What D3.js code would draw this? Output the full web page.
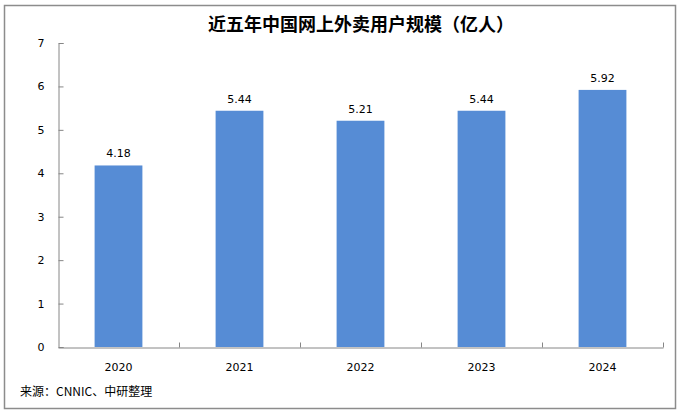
<!DOCTYPE html>
<html><head><meta charset="utf-8">
<script src="https://cdn.jsdelivr.net/npm/d3@7"></script>
<style>body{margin:0;background:#fff}svg{display:block}</style>
</head><body>
<svg id="c" width="680" height="415"></svg>
<script>
const categories = ["2020","2021","2022","2023","2024"];
const values = [4.18,5.44,5.21,5.44,5.92];
const yTicks = [0,1,2,3,4,5,6,7];
const title = "近五年中国网上外卖用户规模（亿人）";
const source = "来源：CNNIC、中研整理";

const svg = d3.select("#c");
const font = "'Noto Sans CJK SC', 'DejaVu Sans', sans-serif";
svg.append("rect").attr("x",4.5).attr("y",5.5).attr("width",671).attr("height",403)
  .attr("fill","#fff").attr("stroke","#8c8c8c").attr("stroke-width",1.5);

const x = d3.scaleBand().domain(categories).range([58,663]);
const y = d3.scaleLinear().domain([0,7]).range([347,43]);
const axisColor = "#868686";

svg.append("text").attr("x",208).attr("y",31).attr("text-anchor","start")
  .attr("font-family",font).attr("font-size",18).attr("font-weight","bold").attr("fill","#000").text(title);

// y axis
const ya = svg.append("g").attr("transform","translate(58.5,0)")
  .call(d3.axisLeft(y).tickValues(yTicks).tickFormat(d3.format("d")).tickSize(-5).tickPadding(14));
ya.select(".domain").attr("stroke",axisColor);
ya.selectAll(".tick line").attr("stroke",axisColor);
ya.selectAll("text").attr("font-family","'DejaVu Sans', sans-serif").attr("font-size",11).attr("fill","#000");

// x axis
const xa = svg.append("g").attr("transform","translate(0,347.5)")
  .call(d3.axisBottom(x).tickSize(0).tickPadding(16));
xa.select(".domain").attr("stroke",axisColor);
xa.selectAll("text").attr("font-family","'DejaVu Sans', sans-serif").attr("font-size",11).attr("fill","#000");
// boundary ticks
xa.selectAll(".bt").data(categories).enter().append("line").attr("class","bt")
  .attr("x1",d=>Math.round(x(d)+x.step())+0.5).attr("x2",d=>Math.round(x(d)+x.step())+0.5)
  .attr("y1",0).attr("y2",-5).attr("stroke",axisColor);

const bw = x.step()*0.395;
svg.append("g").selectAll("rect").data(values).enter().append("rect")
  .attr("x",(d,i)=>x(categories[i])+x.step()/2-bw/2)
  .attr("y",d=>y(d)).attr("width",bw).attr("height",d=>y(0)-y(d))
  .attr("fill","#568CD5");

svg.append("g").selectAll("text").data(values).enter().append("text")
  .attr("x",(d,i)=>x(categories[i])+x.step()/2).attr("y",d=>y(d)-8)
  .attr("text-anchor","middle").attr("font-family","'DejaVu Sans', sans-serif").attr("font-size",11).attr("fill","#000")
  .text(d=>d.toFixed(2));

svg.append("text").attr("x",20).attr("y",396).attr("font-family",font).attr("font-size",12).attr("fill","#000").text(source);
</script>
</body></html>
